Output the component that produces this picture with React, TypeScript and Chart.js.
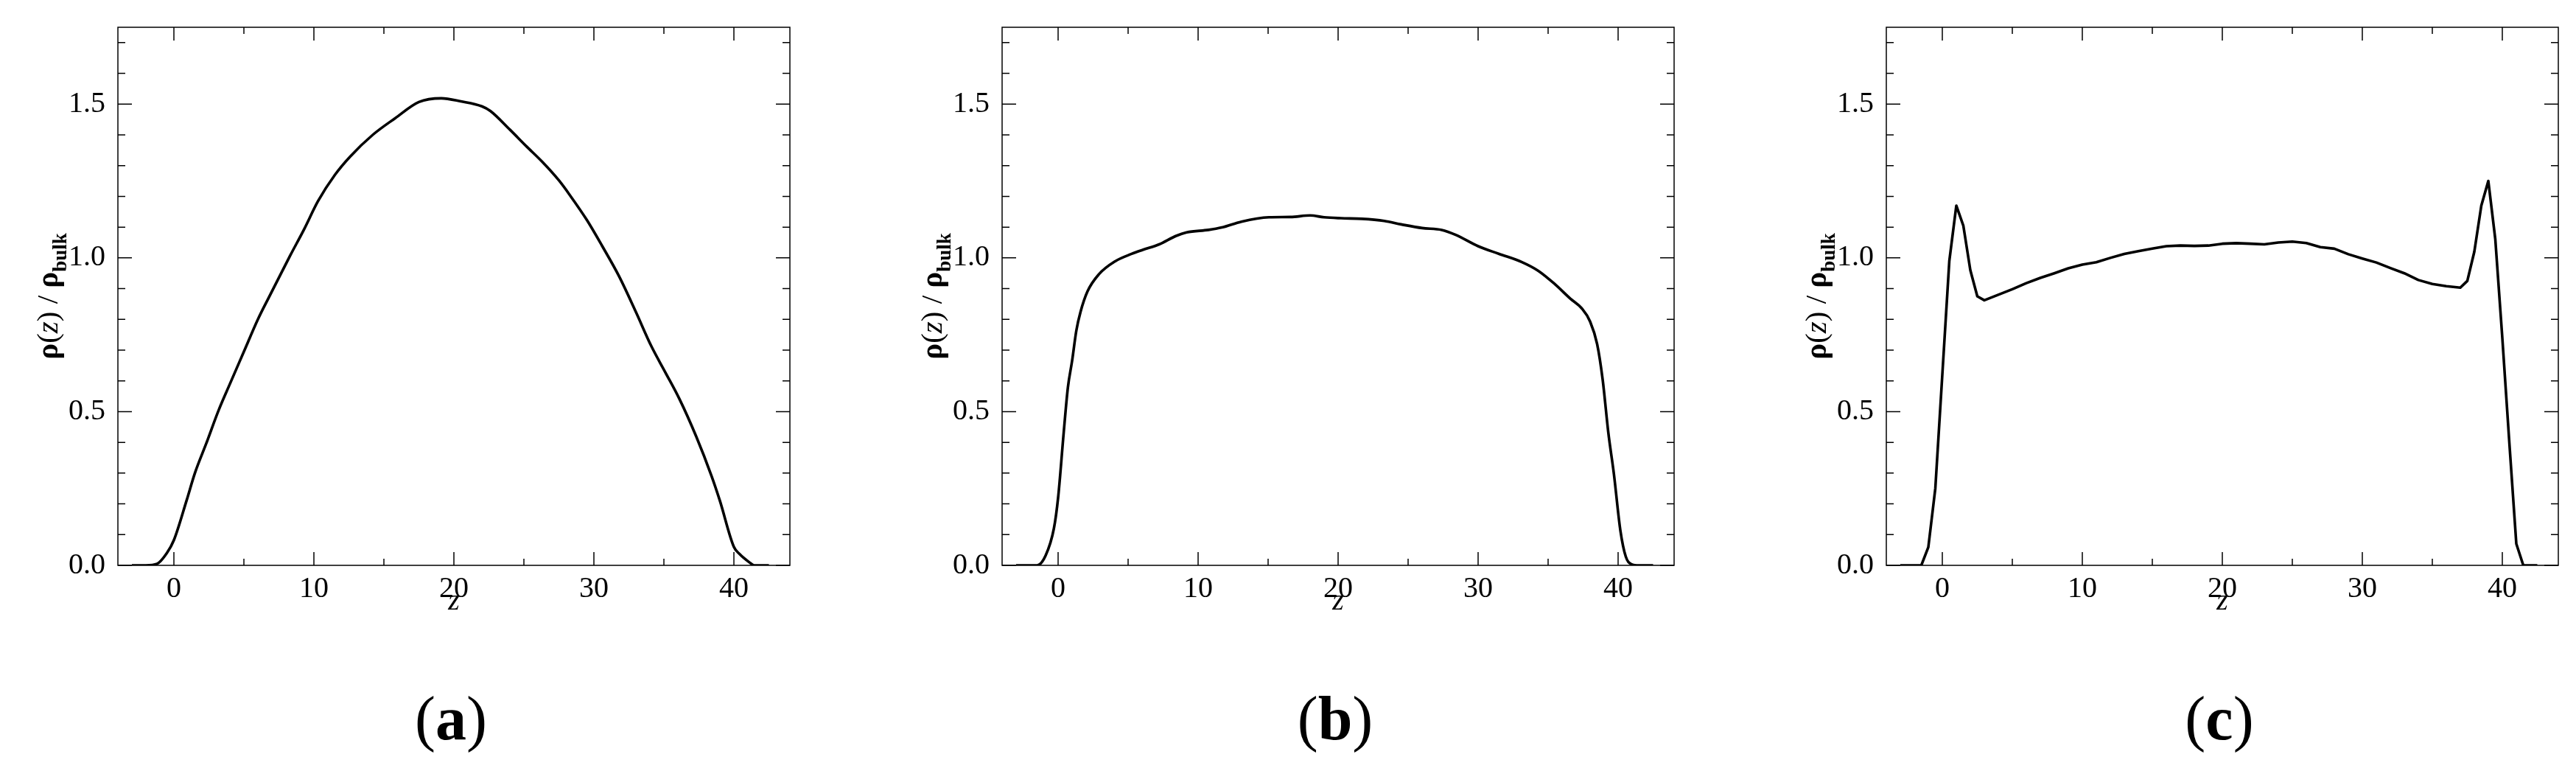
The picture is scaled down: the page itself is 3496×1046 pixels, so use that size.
import React, { useEffect, useRef } from 'react';
import { Chart, registerables } from 'chart.js';

Chart.register(...registerables);

// ---------- data ----------
const zA = [-3.0, -2.0, -1.2, -0.5, 0.0, 0.9, 1.5, 2.3, 3.2, 4.0, 5.0, 6.0, 6.8, 8.3, 9.3, 10.3, 11.5, 12.6, 14.2, 15.8, 17.5, 19.1, 20.5, 22.0, 22.6, 24.0, 25.2, 26.3, 27.5, 28.3, 29.5, 30.6, 31.8, 33.0, 34.1, 35.1, 36.1, 37.3, 38.4, 39.0, 40.0, 40.4, 41.1, 41.45, 42.5];
const rhoA = [0, 0, 0.005, 0.04, 0.082, 0.21, 0.30, 0.395, 0.505, 0.59, 0.695, 0.80, 0.873, 1.007, 1.093, 1.185, 1.27, 1.33, 1.40, 1.454, 1.507, 1.519, 1.509, 1.493, 1.478, 1.417, 1.362, 1.313, 1.252, 1.203, 1.123, 1.038, 0.94, 0.824, 0.713, 0.628, 0.542, 0.42, 0.291, 0.21, 0.06, 0.037, 0.01, 0, 0];

const zB = [-3.0, -1.5, -0.9, -0.3, 0.0, 0.4, 0.7, 1.0, 1.3, 1.6, 2.1, 2.9, 4.08, 5.25, 6.04, 7.22, 8.4, 9.18, 10.75, 11.7, 13.1, 15.06, 16.6, 18.0, 19.0, 20.2, 21.7, 23.3, 24.5, 26.0, 27.4, 28.4, 30.0, 31.5, 33.1, 34.3, 35.45, 36.6, 37.4, 38.0, 38.5, 38.9, 39.3, 39.7, 40.16, 40.55, 40.94, 41.5, 42.5];
const rhoB = [0, 0, 0.031, 0.12, 0.22, 0.432, 0.579, 0.665, 0.763, 0.824, 0.891, 0.946, 0.989, 1.013, 1.026, 1.044, 1.071, 1.083, 1.091, 1.099, 1.118, 1.132, 1.133, 1.138, 1.132, 1.129, 1.127, 1.120, 1.109, 1.097, 1.091, 1.075, 1.038, 1.013, 0.987, 0.958, 0.916, 0.867, 0.836, 0.793, 0.72, 0.603, 0.432, 0.297, 0.114, 0.028, 0.004, 0, 0];

const zC = [-3.0, -1.5, -1.0, -0.5, 0.0, 0.5, 1.0, 1.5, 2.0, 2.5, 3.0, 4.0, 5.0, 6.0, 7.0, 8.0, 9.0, 10.0, 11.0, 12.0, 13.0, 14.0, 15.0, 16.0, 17.0, 18.0, 19.0, 20.0, 21.0, 22.0, 23.0, 24.0, 25.0, 26.0, 27.0, 28.0, 29.0, 30.0, 31.0, 32.0, 33.0, 34.0, 35.0, 36.0, 37.0, 37.5, 38.0, 38.5, 39.0, 39.5, 40.0, 40.5, 41.0, 41.5, 42.5];
const rhoC = [0, 0, 0.059, 0.25, 0.62, 0.99, 1.17, 1.105, 0.96, 0.875, 0.862, 0.88, 0.898, 0.918, 0.935, 0.95, 0.966, 0.978, 0.986, 1.0, 1.013, 1.022, 1.03, 1.038, 1.04, 1.039, 1.04, 1.046, 1.048, 1.046, 1.044, 1.05, 1.053, 1.048, 1.035, 1.03, 1.012, 0.998, 0.985, 0.967, 0.95, 0.928, 0.915, 0.908, 0.903, 0.925, 1.02, 1.17, 1.25, 1.06, 0.74, 0.40, 0.07, 0, 0];

const xMajorTicks = [0, 10, 20, 30, 40];
const xMinorTicks = [5, 15, 25, 35];
const yMajorTicks = [0, 0.5, 1.0, 1.5];
const yMinorTicks = [0.1, 0.2, 0.3, 0.4, 0.6, 0.7, 0.8, 0.9, 1.1, 1.2, 1.3, 1.4, 1.6, 1.7];
const X_MIN = -4;
const X_MAX = 44;
const Y_MIN = 0;
const Y_MAX = 1.75;
const xTitle = 'z';
const panelLabels = ['a', 'b', 'c'];

const FAMILY = "'Liberation Serif', 'Times New Roman', serif";

const panels = [
  { z: zA, rho: rhoA, smooth: true },
  { z: zB, rho: rhoB, smooth: true },
  { z: zC, rho: rhoC, smooth: false },
];

// ---------- plugin: framed box, inward ticks, rich y title ----------
const frameTicksPlugin = {
  id: 'frameTicks',
  afterDatasetsDraw(chart: any) {
    const { ctx, chartArea, scales } = chart;
    const { left, right, top, bottom } = chartArea;
    const x = scales.x;
    const y = scales.y;
    ctx.save();
    ctx.strokeStyle = '#000';
    ctx.lineWidth = 1.5;
    ctx.beginPath();
    const xTick = (v: number, len: number) => {
      const p = x.getPixelForValue(v);
      ctx.moveTo(p, bottom);
      ctx.lineTo(p, bottom - len);
      ctx.moveTo(p, top);
      ctx.lineTo(p, top + len);
    };
    const yTick = (v: number, len: number) => {
      const p = y.getPixelForValue(v);
      ctx.moveTo(left, p);
      ctx.lineTo(left + len, p);
      ctx.moveTo(right, p);
      ctx.lineTo(right - len, p);
    };
    xMajorTicks.forEach((v) => xTick(v, 18));
    xMinorTicks.forEach((v) => xTick(v, 9));
    yMajorTicks.forEach((v) => yTick(v, 19));
    yMinorTicks.forEach((v) => yTick(v, 10));
    ctx.stroke();
    ctx.strokeRect(left, top, right - left, bottom - top);

    // y axis title: ρ(z) / ρ_bulk
    const runs = [
      { t: '\u03C1', f: `bold 41px ${FAMILY}`, dy: 0 },
      { t: '(', f: `41px ${FAMILY}`, dy: 0 },
      { t: 'z', f: `italic 41px ${FAMILY}`, dy: 0 },
      { t: ') / ', f: `41px ${FAMILY}`, dy: 0 },
      { t: '\u03C1', f: `bold 41px ${FAMILY}`, dy: 0 },
      { t: 'bulk', f: `bold 27px ${FAMILY}`, dy: 12 },
    ];
    let total = 0;
    const widths = runs.map((r) => {
      ctx.font = r.f;
      const w = ctx.measureText(r.t).width;
      total += w;
      return w;
    });
    const cy = (top + bottom) / 2;
    const bx = left - 82;
    ctx.translate(bx, cy);
    ctx.rotate(-Math.PI / 2);
    ctx.fillStyle = '#000';
    ctx.textBaseline = 'alphabetic';
    ctx.textAlign = 'left';
    let cx = -total / 2;
    runs.forEach((r, i) => {
      ctx.font = r.f;
      ctx.fillText(r.t, cx, r.dy);
      cx += widths[i];
    });
    ctx.restore();
  },
};

function Panel({ idx }: { idx: number }) {
  const ref = useRef<HTMLCanvasElement | null>(null);
  useEffect(() => {
    const p = panels[idx];
    const canvas = ref.current;
    if (!canvas) return;
    const chart = new Chart(canvas, {
      type: 'line',
      data: {
        datasets: [
          {
            data: p.z.map((v, i) => ({ x: v, y: p.rho[i] })),
            borderColor: '#000',
            borderWidth: 3.6,
            pointRadius: 0,
            fill: false,
            tension: p.smooth ? 0.4 : 0,
            cubicInterpolationMode: p.smooth ? 'monotone' : 'default',
            borderJoinStyle: 'round',
          } as any,
        ],
      },
      options: {
        animation: false,
        responsive: false,
        devicePixelRatio: 1,
        events: [],
        layout: { padding: { left: 0, top: 37, right: 24, bottom: 0 } },
        plugins: { legend: { display: false }, tooltip: { enabled: false } },
        scales: {
          x: {
            type: 'linear',
            min: X_MIN,
            max: X_MAX,
            grid: { display: false },
            border: { display: false },
            afterBuildTicks: (s: any) => {
              s.ticks = xMajorTicks.map((v) => ({ value: v }));
            },
            afterFit: (s: any) => {
              s.height = 73;
            },
            ticks: {
              color: '#000',
              padding: 0,
              maxRotation: 0,
              autoSkip: false,
              font: { family: FAMILY, size: 40 },
              callback: (v: any) => String(v),
            },
            title: {
              display: true,
              text: xTitle,
              color: '#000',
              padding: 0,
              font: { family: FAMILY, size: 40, style: 'italic' },
            },
          },
          y: {
            type: 'linear',
            min: Y_MIN,
            max: Y_MAX,
            grid: { display: false },
            border: { display: false },
            afterBuildTicks: (s: any) => {
              s.ticks = yMajorTicks.map((v) => ({ value: v }));
            },
            afterFit: (s: any) => {
              s.width = 160;
            },
            ticks: {
              color: '#000',
              padding: 9,
              autoSkip: false,
              font: { family: FAMILY, size: 40 },
              callback: (v: any) => Number(v).toFixed(1),
            },
          },
        },
      } as any,
      plugins: [frameTicksPlugin],
    });
    return () => chart.destroy();
  }, [idx]);
  return (
    <div style={{ position: 'absolute', left: 1200 * idx, top: 0, width: 1096, height: 840 }}>
      <canvas ref={ref} width={1096} height={840} style={{ display: 'block' }} />
    </div>
  );
}

export default function App() {
  return (
    <div
      style={{
        position: 'absolute',
        left: 0,
        top: 0,
        width: 3496,
        height: 1046,
        overflow: 'hidden',
        background: '#fff',
      }}
    >
      {panelLabels.map((_, i) => (
        <Panel key={i} idx={i} />
      ))}
      {panelLabels.map((l, i) => (
        <div
          key={'lab' + l}
          style={{
            position: 'absolute',
            left: 612 + 1200 * i - 300,
            width: 600,
            top: 933,
            textAlign: 'center',
            fontFamily: FAMILY,
            fontSize: 84,
            lineHeight: '84px',
            color: '#000',
            whiteSpace: 'nowrap',
          }}
        >
          (<b>{l}</b>)
        </div>
      ))}
    </div>
  );
}
